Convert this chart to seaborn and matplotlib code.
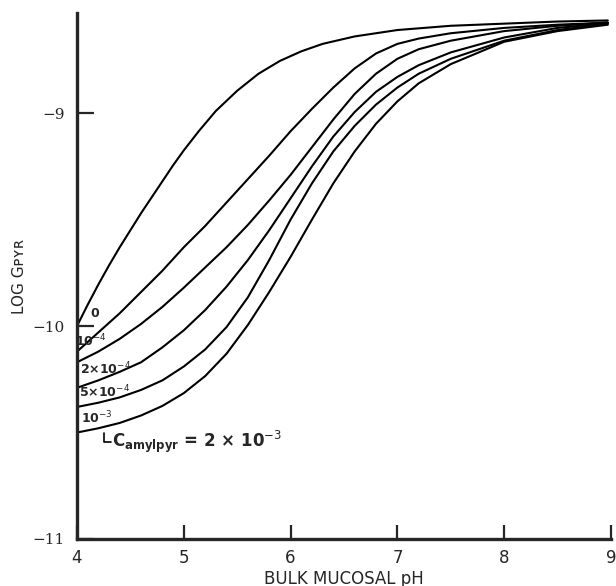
import pandas as pd
import seaborn as sns
import matplotlib.pyplot as plt

# valores (pH do muco, log G_pyr) para cada concentracao de amilpirazina
ph_0 = [4.0, 4.1, 4.2, 4.3, 4.4, 4.5, 4.6, 4.7, 4.8, 4.9, 5.0, 5.14, 5.3, 5.5, 5.7, 5.9,
        6.1, 6.3, 6.6, 7.0, 7.5, 8.0, 8.5, 8.97]
g_0 = [-10.00, -9.90, -9.805, -9.715, -9.63, -9.55, -9.47, -9.395, -9.32, -9.245, -9.175,
       -9.085, -8.99, -8.895, -8.815, -8.755, -8.71, -8.675, -8.64, -8.61, -8.59, -8.58,
       -8.57, -8.565]

ph_1e4 = [4.0, 4.2, 4.4, 4.6, 4.8, 5.0, 5.2, 5.4, 5.6, 5.8, 6.0, 6.2, 6.4, 6.6, 6.8,
          7.0, 7.2, 7.5, 8.0, 8.5, 8.97]
g_1e4 = [-10.12, -10.03, -9.94, -9.84, -9.74, -9.63, -9.53, -9.42, -9.31, -9.20, -9.085,
         -8.98, -8.88, -8.79, -8.72, -8.675, -8.65, -8.625, -8.60, -8.585, -8.575]

ph_2e4 = [4.0, 4.2, 4.4, 4.6, 4.8, 5.0, 5.2, 5.4, 5.6, 5.8, 6.0, 6.2, 6.4, 6.6, 6.8,
          7.0, 7.2, 7.5, 8.0, 8.5, 8.97]
g_2e4 = [-10.17, -10.12, -10.06, -9.99, -9.91, -9.82, -9.725, -9.63, -9.525, -9.41, -9.29,
         -9.16, -9.03, -8.91, -8.815, -8.745, -8.70, -8.66, -8.615, -8.59, -8.575]

ph_5e4 = [4.0, 4.2, 4.4, 4.6, 4.8, 5.0, 5.2, 5.4, 5.6, 5.8, 6.0, 6.2, 6.4, 6.6, 6.8,
          7.0, 7.2, 7.5, 8.0, 8.5, 8.97]
g_5e4 = [-10.29, -10.255, -10.215, -10.17, -10.10, -10.02, -9.925, -9.815, -9.69, -9.55,
         -9.40, -9.25, -9.11, -8.995, -8.90, -8.83, -8.775, -8.715, -8.645, -8.60, -8.578]

ph_1e3 = [4.0, 4.2, 4.4, 4.6, 4.8, 5.0, 5.2, 5.4, 5.6, 5.8, 6.0, 6.2, 6.4, 6.6, 6.8,
          7.0, 7.2, 7.5, 8.0, 8.5, 8.97]
g_1e3 = [-10.38, -10.36, -10.335, -10.30, -10.255, -10.19, -10.11, -10.005, -9.865, -9.69,
         -9.50, -9.33, -9.18, -9.06, -8.96, -8.88, -8.815, -8.745, -8.66, -8.61, -8.58]

ph_2e3 = [4.0, 4.2, 4.4, 4.6, 4.8, 5.0, 5.2, 5.4, 5.6, 5.8, 6.0, 6.2, 6.4, 6.6, 6.8,
          7.0, 7.2, 7.5, 8.0, 8.5, 8.97]
g_2e3 = [-10.50, -10.48, -10.455, -10.42, -10.375, -10.315, -10.235, -10.13, -9.995, -9.84,
         -9.675, -9.50, -9.33, -9.18, -9.05, -8.945, -8.86, -8.77, -8.665, -8.615, -8.585]

conc = ["0", "1e-4", "2e-4", "5e-4", "1e-3", "2e-3"]

x_ticks = [4, 5, 6, 7, 8, 9]
y_ticks = [-11, -10, -9]
y_tick_labels = ["\u221211", "\u221210", "\u22129"]

# monta o dataframe longo
series = [(ph_0, g_0), (ph_1e4, g_1e4), (ph_2e4, g_2e4),
          (ph_5e4, g_5e4), (ph_1e3, g_1e3), (ph_2e3, g_2e3)]
linhas = []
for c, (xs, ys) in zip(conc, series):
    for x, y in zip(xs, ys):
        linhas.append({"pH": x, "logG": y, "conc": c})
df = pd.DataFrame(linhas)

sns.set_theme(style="ticks")
plt.rcParams["font.family"] = ["DejaVu Sans"]

fig = plt.figure(figsize=(6.16, 5.86), dpi=100)
ax = fig.add_axes([77 / 616, 1 - 539 / 586, 534 / 616, 526 / 586])

sns.lineplot(data=df, x="pH", y="logG", hue="conc", palette=["black"] * len(conc),
             linewidth=1.5, legend=False, ax=ax, sort=True)

ax.set_xlim(4, 9)
ax.set_ylim(-11, -8.53)
ax.set_xticks(x_ticks)
ax.set_yticks(y_ticks)
ax.set_yticklabels(y_tick_labels, family="DejaVu Serif", fontsize=11)
ax.tick_params(axis="x", direction="in", length=10, width=1.6, pad=7, labelsize=12)
ax.tick_params(axis="y", direction="in", length=12, width=1.6, pad=9)

sns.despine(ax=ax)
for s in ["left", "bottom"]:
    ax.spines[s].set_linewidth(2.4)

ax.set_xlabel("BULK MUCOSAL pH", fontsize=12, labelpad=2)
ax.set_ylabel("LOG G\u1d18\u028f\u0280", fontsize=11, labelpad=4)

# rotulos das curvas
estilo = dict(fontsize=9, weight="bold", ha="center", va="center")
ax.text(4.17, -9.94, "0", **estilo)
ax.text(4.13, -10.07, "10$^{-4}$", **estilo)
ax.text(4.27, -10.20, "2\u00d710$^{-4}$", **estilo)
ax.text(4.26, -10.31, "5\u00d710$^{-4}$", **estilo)
ax.text(4.19, -10.43, "10$^{-3}$", **estilo)
ax.plot([4.255, 4.255, 4.32], [-10.50, -10.545, -10.545], color="black", lw=1.2)
ax.text(4.33, -10.545, "C$_{\\mathregular{amylpyr}}$ = 2 \u00d7 10$^{-3}$",
        fontsize=12, weight="bold", ha="left", va="center")

plt.savefig("out.png", dpi=100)
